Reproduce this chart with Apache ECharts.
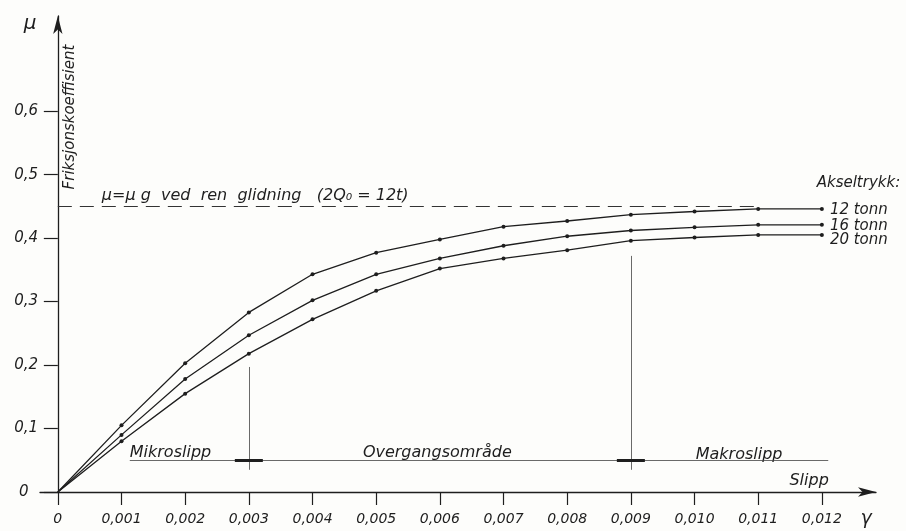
<!DOCTYPE html>
<html>
<head>
<meta charset="utf-8">
<script src="https://cdn.jsdelivr.net/npm/echarts@6/dist/echarts.min.js"></script>
<style>
  html, body { margin: 0; padding: 0; background: #fdfdfb; }
  #chart { width: 906px; height: 531px; }
</style>
</head>
<body>
<div id="chart"></div>
<script>
// slipp (gamma)
const slipp = [0, 0.001, 0.002, 0.003, 0.004, 0.005, 0.006, 0.007, 0.008, 0.009, 0.010, 0.011, 0.012];
// friksjonskoeffisient for hvert akseltrykk
const mu12 = [0, 0.105, 0.203, 0.283, 0.343, 0.377, 0.398, 0.418, 0.427, 0.437, 0.442, 0.446, 0.446];
const mu16 = [0, 0.090, 0.178, 0.247, 0.302, 0.343, 0.368, 0.388, 0.403, 0.412, 0.417, 0.421, 0.421];
const mu20 = [0, 0.080, 0.155, 0.218, 0.272, 0.317, 0.352, 0.368, 0.381, 0.396, 0.401, 0.405, 0.405];
const seriesNames = ['12 tonn', '16 tonn', '20 tonn'];
const yTicks = [0, 0.1, 0.2, 0.3, 0.4, 0.5, 0.6];
const muGlid = 0.45;
const sonegrenser = [0.003, 0.009];

const FONT = 'DejaVu Sans';
const INK = '#1e1e1e';

const chart = echarts.init(document.getElementById('chart'));

const toData = (ys) => slipp.map((x, i) => i === 0
  ? { value: [x, ys[i]], symbol: 'none' }
  : [x, ys[i]]);

const lineSeries = (name, ys, dy) => ({
  name: name,
  type: 'line',
  data: toData(ys),
  symbol: 'circle',
  symbolSize: 4,
  itemStyle: { color: INK },
  lineStyle: { color: INK, width: 1.3 },
  endLabel: {
    show: true,
    formatter: name,
    color: INK,
    fontFamily: FONT,
    fontStyle: 'italic',
    fontSize: 15,
    distance: 8,
    offset: [0, dy]
  },
  z: 3
});

const note = (x, y, text, position, size) => ({
  value: [x, y],
  label: {
    show: true,
    formatter: text,
    position: position,
    distance: 0,
    color: INK,
    textBorderWidth: 0,
    fontFamily: FONT,
    fontStyle: 'italic',
    fontSize: size || 16
  }
});

const thin = { color: '#444', width: 0.8, type: 'solid' };

const option = {
  backgroundColor: '#fdfdfb',
  animation: false,
  grid: { left: 40, right: 30, top: 16, bottom: 39 },
  xAxis: {
    type: 'value',
    min: -0.00028,
    max: 0.01285,
    axisLine: {
      onZero: true,
      lineStyle: { color: INK, width: 1.3 },
      symbol: ['none', 'arrow'],
      symbolSize: [7, 18]
    },
    axisTick: { show: true, length: 13, customValues: slipp, lineStyle: { color: INK, width: 1.2 } },
    axisLabel: {
      customValues: slipp,
      margin: 20,
      color: INK,
      fontFamily: FONT,
      fontStyle: 'italic',
      fontSize: 14,
      formatter: (v) => v === 0 ? '0' : v.toFixed(3).replace('.', ',')
    },
    splitLine: { show: false }
  },
  yAxis: {
    type: 'value',
    min: 0,
    max: 0.75,
    axisLine: {
      onZero: true,
      lineStyle: { color: INK, width: 1.3 },
      symbol: ['none', 'arrow'],
      symbolSize: [7, 18]
    },
    axisTick: { show: true, length: 14, customValues: yTicks, lineStyle: { color: INK, width: 1.2 } },
    axisLabel: {
      customValues: yTicks,
      margin: 2,
      color: INK,
      fontFamily: FONT,
      fontStyle: 'italic',
      fontSize: 15,
      formatter: (v) => v === 0 ? '0  ' : v.toFixed(1).replace('.', ',')
    },
    splitLine: { show: false }
  },
  series: [
    lineSeries(seriesNames[0], mu12, 1),
    lineSeries(seriesNames[1], mu16, 1),
    lineSeries(seriesNames[2], mu20, 5),
    {
      // hjelpelinjer og soneinndeling
      name: 'soner',
      type: 'scatter',
      symbolSize: 0,
      silent: true,
      clip: false,
      itemStyle: { color: INK, opacity: 1 },
      data: [
        note(0.00113, 0.062, 'Mikroslipp', 'right'),
        note(0.00596, 0.062, 'Overgangsområde', 'inside'),
        note(0.0107, 0.059, 'Makroslipp', 'inside'),
        note(0.0118, 0.017, 'Slipp', 'inside'),
        note(0.01323, 0.487, 'Akseltrykk:', 'left', 15)
      ],
      markLine: {
        silent: true,
        symbol: ['none', 'none'],
        label: { show: false },
        data: [
          [
            {
              coord: [0, muGlid],
              lineStyle: { color: '#333', width: 1, type: [14, 8] },
              label: {
                show: true,
                position: 'insideStartTop',
                distance: [44, 3],
                formatter: 'μ=μ g  ved  ren  glidning   (2Q₀ = 12t)',
                color: INK,
                fontFamily: FONT,
                fontStyle: 'italic',
                fontSize: 16
              }
            },
            { coord: [0.011, muGlid] }
          ],
          [{ coord: [0.00113, 0.05], lineStyle: thin }, { coord: [0.0121, 0.05] }],
          [{ coord: [sonegrenser[0], 0.197], lineStyle: thin }, { coord: [sonegrenser[0], 0.035] }],
          [{ coord: [sonegrenser[1], 0.372], lineStyle: thin }, { coord: [sonegrenser[1], 0.035] }],
          [{ coord: [sonegrenser[0] - 0.00022, 0.05], lineStyle: { color: INK, width: 3, type: 'solid' } }, { coord: [sonegrenser[0] + 0.00022, 0.05] }],
          [{ coord: [sonegrenser[1] - 0.00022, 0.05], lineStyle: { color: INK, width: 3, type: 'solid' } }, { coord: [sonegrenser[1] + 0.00022, 0.05] }]
        ]
      }
    }
  ],
  graphic: [
    {
      type: 'text',
      x: 70, y: 117,
      rotation: Math.PI / 2,
      style: {
        text: 'Friksjonskoeffisient',
        fill: INK,
        font: 'italic 15px "DejaVu Sans"',
        align: 'center',
        verticalAlign: 'middle'
      }
    },
    {
      type: 'text',
      x: 30, y: 24,
      style: {
        text: 'μ',
        fill: INK,
        font: 'italic 20px "DejaVu Sans"',
        align: 'center',
        verticalAlign: 'middle'
      }
    },
    {
      type: 'text',
      x: 866, y: 519,
      style: {
        text: 'γ',
        fill: INK,
        font: 'italic 19px "DejaVu Sans"',
        align: 'center',
        verticalAlign: 'middle'
      }
    }
  ]
};

chart.setOption(option);
</script>
</body>
</html>
